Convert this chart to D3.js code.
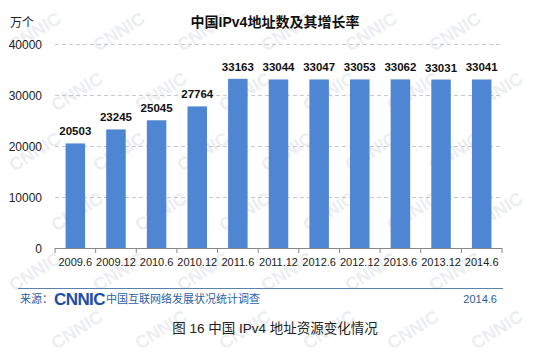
<!DOCTYPE html>
<html><head><meta charset="utf-8">
<script src="https://cdn.jsdelivr.net/npm/d3@7"></script>
<style>body{margin:0;background:#fff;}svg{display:block;font-family:Arial,"Liberation Sans","Noto Sans CJK SC",sans-serif;}</style>
</head><body>
<script>
const categories = ["2009.6","2009.12","2010.6","2010.12","2011.6","2011.12","2012.6","2012.12","2013.6","2013.12","2014.6"];
const values = [20503,23245,25045,27764,33163,33044,33047,33053,33062,33031,33041];
const yTicks = [0,10000,20000,30000,40000];

const W=550,H=360;
const svg=d3.select("body").append("svg").attr("width",W).attr("height",H);
svg.append("rect").attr("width",W).attr("height",H).attr("fill","#fff");

// watermark (kept inside the canvas)
const wm=svg.append("g").attr("fill","#eceef2").attr("font-size",18).attr("font-weight","bold").attr("font-family","Arial,sans-serif");
const wmRows=[52,112,172,232,292,350];
wmRows.forEach((yy,r)=>{
  for(let xx=14+(r%2)*42; xx<=476; xx+=84){
    wm.append("text").attr("transform",`translate(${xx},${yy}) rotate(-32)`).text("CNNIC");
  }
});

const x=d3.scaleBand().domain(categories).range([55,502]).paddingInner(0.52).paddingOuter(0.26);
const y=d3.scaleLinear().domain([0,40000]).range([248,44]);

// gridlines
svg.append("g").selectAll("line").data(yTicks.slice(1)).join("line")
  .attr("x1",55).attr("x2",502).attr("y1",d=>y(d)+0.5).attr("y2",d=>y(d)+0.5)
  .attr("stroke","#c8c8c8").attr("stroke-dasharray","4,3");

// y labels
svg.append("g").selectAll("text").data(yTicks).join("text")
  .attr("x",42).attr("y",d=>y(d)+4.5).attr("text-anchor","end")
  .attr("font-size",12).attr("fill","#222").text(d=>d);

// bars
svg.append("g").selectAll("rect").data(values).join("rect")
  .attr("x",(d,i)=>x(categories[i])).attr("width",x.bandwidth())
  .attr("y",d=>y(d)).attr("height",d=>y(0)-y(d))
  .attr("fill","#4f86d4");

// value labels
svg.append("g").selectAll("text").data(values).join("text")
  .attr("x",(d,i)=>x(categories[i])+x.bandwidth()/2).attr("y",d=>y(d)-8)
  .attr("text-anchor","middle").attr("font-size",11.5).attr("font-weight","bold").attr("fill","#111").text(d=>d);

// x axis
const xa=d3.axisBottom(x).tickSize(0).tickPadding(10);
const gx=svg.append("g").attr("transform","translate(0,248)").call(xa);
gx.select(".domain").attr("stroke","#888").attr("d","M55,0.5H502");
gx.selectAll("text").attr("font-size",11).attr("fill","#222").attr("font-family","Arial,sans-serif");
const step=x.step();
const tickPos=d3.range(categories.length+1).map(i=>55+i*step);
gx.append("g").selectAll("line").data(tickPos).join("line")
  .attr("x1",d=>d).attr("x2",d=>d).attr("y1",0).attr("y2",5).attr("stroke","#888");

// titles
svg.append("text").attr("x",275).attr("y",27).attr("text-anchor","middle")
  .attr("font-size",14).attr("font-weight","bold").attr("fill","#111").text("中国IPv4地址数及其增长率");
svg.append("text").attr("x",10).attr("y",27).attr("font-size",12).attr("fill","#222").text("万个");

// footer
svg.append("line").attr("x1",18).attr("x2",503).attr("y1",288.5).attr("y2",288.5).attr("stroke","#5a82ad").attr("stroke-width",1);
svg.append("text").attr("x",20).attr("y",303).attr("font-size",11).attr("fill","#2a5fa8").text("来源：");
svg.append("text").attr("x",54).attr("y",305).attr("font-size",17).attr("font-weight","bold").attr("fill","#1d4ea6")
  .attr("font-family","Arial Black,Arial,sans-serif").attr("letter-spacing","-1.5").attr("textLength",50).text("CNNIC");
svg.append("text").attr("x",106).attr("y",303).attr("font-size",11).attr("fill","#2a5fa8").text("中国互联网络发展状况统计调查");
svg.append("text").attr("x",497).attr("y",303).attr("text-anchor","end").attr("font-size",11).attr("fill","#2a6090").text("2014.6");
svg.append("text").attr("x",275).attr("y",333).attr("text-anchor","middle").attr("font-size",13.5).attr("fill","#222").text("图 16 中国 IPv4 地址资源变化情况");
</script>
</body></html>
